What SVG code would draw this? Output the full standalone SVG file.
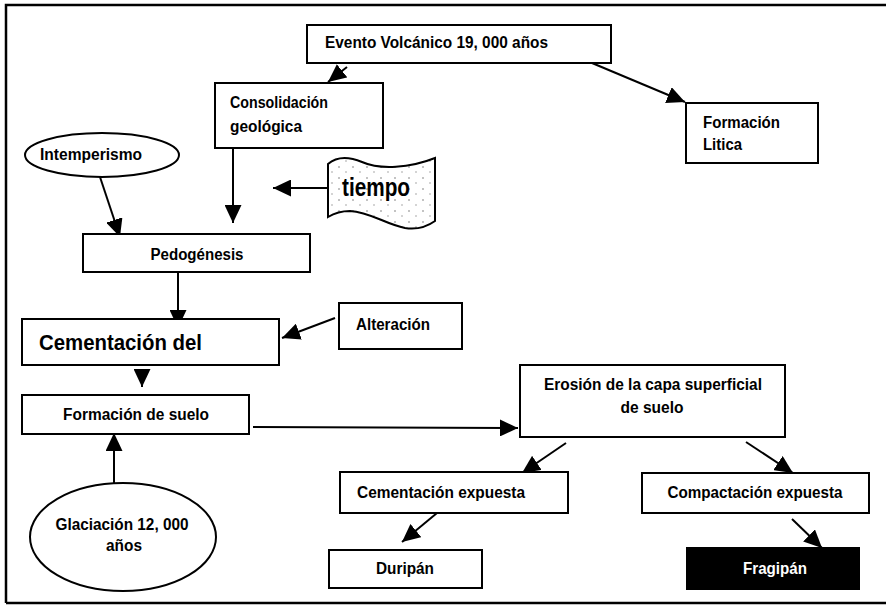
<svg xmlns="http://www.w3.org/2000/svg" width="886" height="605" viewBox="0 0 886 605">
<defs>
<style>
.box{fill:#fff;stroke:#000;stroke-width:2}
.t{font-family:"Liberation Sans",Arial,sans-serif;font-weight:bold;font-size:16px;fill:#000}
.c{text-anchor:middle}
.ln{stroke:#000;stroke-width:2;fill:none}
.ar{stroke:#000;stroke-width:2;fill:none;marker-end:url(#ah)}
</style>
<marker id="ah" markerUnits="userSpaceOnUse" markerWidth="19" markerHeight="17" viewBox="0 0 19 17" refX="18" refY="8.5" orient="auto">
<path d="M0,0 L18,8.5 L0,17 Z" fill="#000"/>
</marker>
<pattern id="spk" width="14" height="11" patternUnits="userSpaceOnUse">
<rect width="14" height="11" fill="#fff"/>
<circle cx="3" cy="2" r="0.8" fill="#777"/>
<circle cx="10" cy="7" r="0.7" fill="#888"/>
</pattern>
</defs>
<rect width="886" height="605" fill="#fff"/>
<path d="M6,603 L6,5 L886,5 M6,603 L886,603" stroke="#000" stroke-width="2.5" fill="none"/>

<g id="connectors">
<path class="ar" d="M347,67 L328,82"/>
<path class="ar" d="M592,63 L685,102"/>
<path class="ar" d="M100,177 L120,237"/>
<path class="ar" d="M328,188 L273,188"/>
<path class="ar" d="M233,148 L233,223"/>
<path class="ar" d="M178,272 L178,328"/>
<path class="ar" d="M335,318 L282,338"/>
<path class="ar" d="M142,371 L142,387"/>
<path class="ar" d="M253,427 L518,428"/>
<path class="ar" d="M114,485 L114,433"/>
<path class="ar" d="M566,443 L522,473"/>
<path class="ar" d="M746,442 L793,473"/>
<path class="ar" d="M437,513 L402,542"/>
<path class="ar" d="M792,519 L822,548"/>
</g>

<g id="evento">
<rect class="box" x="307" y="25" width="304" height="38"/>
<text class="t" x="325" y="48" textLength="223" lengthAdjust="spacingAndGlyphs">Evento Volcánico 19, 000 años</text>
</g>
<g id="consolidacion">
<rect class="box" x="215" y="83" width="168" height="65"/>
<text class="t" x="230" y="108" textLength="98" lengthAdjust="spacingAndGlyphs">Consolidación</text>
<text class="t" x="230" y="132" textLength="72" lengthAdjust="spacingAndGlyphs">geológica</text>
</g>
<g id="formacion-litica">
<rect class="box" x="686" y="103" width="132" height="60"/>
<text class="t" x="703" y="128" textLength="77" lengthAdjust="spacingAndGlyphs">Formación</text>
<text class="t" x="703" y="150" textLength="39" lengthAdjust="spacingAndGlyphs">Litica</text>
</g>
<g id="intemperismo">
<ellipse class="box" cx="102" cy="155" rx="77" ry="22"/>
<text class="t" x="40" y="160" style="font-size:17px" textLength="102" lengthAdjust="spacingAndGlyphs">Intemperismo</text>
</g>
<g id="tiempo">
<path d="M328,164 C336,157 348,156 362,162 C380,170 410,168 435,158 L435,221 C428,226 418,230 405,228 C385,224 370,212 350,211 C340,211 333,214 328,217 Z" fill="url(#spk)" stroke="#000" stroke-width="2"/>
<text class="t" x="342" y="196" style="font-size:26px;font-weight:900" textLength="68" lengthAdjust="spacingAndGlyphs">tiempo</text>
</g>
<g id="pedogenesis">
<rect class="box" x="83" y="234" width="227" height="38"/>
<text class="t c" x="197" y="260" textLength="93" lengthAdjust="spacingAndGlyphs">Pedogénesis</text>
</g>
<g id="cementacion-del">
<rect class="box" x="22" y="319" width="257" height="46"/>
<text class="t" x="39" y="350" style="font-size:22px" textLength="163" lengthAdjust="spacingAndGlyphs">Cementación del</text>
</g>
<g id="alteracion">
<rect class="box" x="339" y="303" width="123" height="46"/>
<text class="t" x="356" y="330" textLength="74" lengthAdjust="spacingAndGlyphs">Alteración</text>
</g>
<g id="formacion-suelo">
<rect class="box" x="22" y="395" width="227" height="39"/>
<text class="t c" x="136" y="420" textLength="146" lengthAdjust="spacingAndGlyphs">Formación de suelo</text>
</g>
<g id="glaciacion">
<ellipse class="box" cx="123" cy="537" rx="93" ry="54"/>
<text class="t c" x="122" y="530" textLength="133" lengthAdjust="spacingAndGlyphs">Glaciación 12, 000</text>
<text class="t c" x="124" y="551" textLength="36" lengthAdjust="spacingAndGlyphs">años</text>
</g>
<g id="erosion">
<rect class="box" x="520" y="365" width="265" height="72"/>
<text class="t c" x="653" y="390" textLength="218" lengthAdjust="spacingAndGlyphs">Erosión de la capa superficial</text>
<text class="t c" x="652" y="413" textLength="63" lengthAdjust="spacingAndGlyphs">de suelo</text>
</g>
<g id="cementacion-expuesta">
<rect class="box" x="340" y="472" width="228" height="41"/>
<text class="t c" x="441" y="498" textLength="168" lengthAdjust="spacingAndGlyphs">Cementación expuesta</text>
</g>
<g id="compactacion-expuesta">
<rect class="box" x="642" y="473" width="227" height="40"/>
<text class="t c" x="755" y="498" textLength="175" lengthAdjust="spacingAndGlyphs">Compactación expuesta</text>
</g>
<g id="duripan">
<rect class="box" x="329" y="550" width="153" height="38"/>
<text class="t c" x="405" y="574" textLength="58" lengthAdjust="spacingAndGlyphs">Duripán</text>
</g>
<g id="fragipan">
<rect x="687" y="548" width="172" height="41" fill="#000" stroke="#000" stroke-width="2"/>
<text class="t c" x="775" y="574" style="fill:#fff" textLength="64" lengthAdjust="spacingAndGlyphs">Fragipán</text>
</g>
</svg>
